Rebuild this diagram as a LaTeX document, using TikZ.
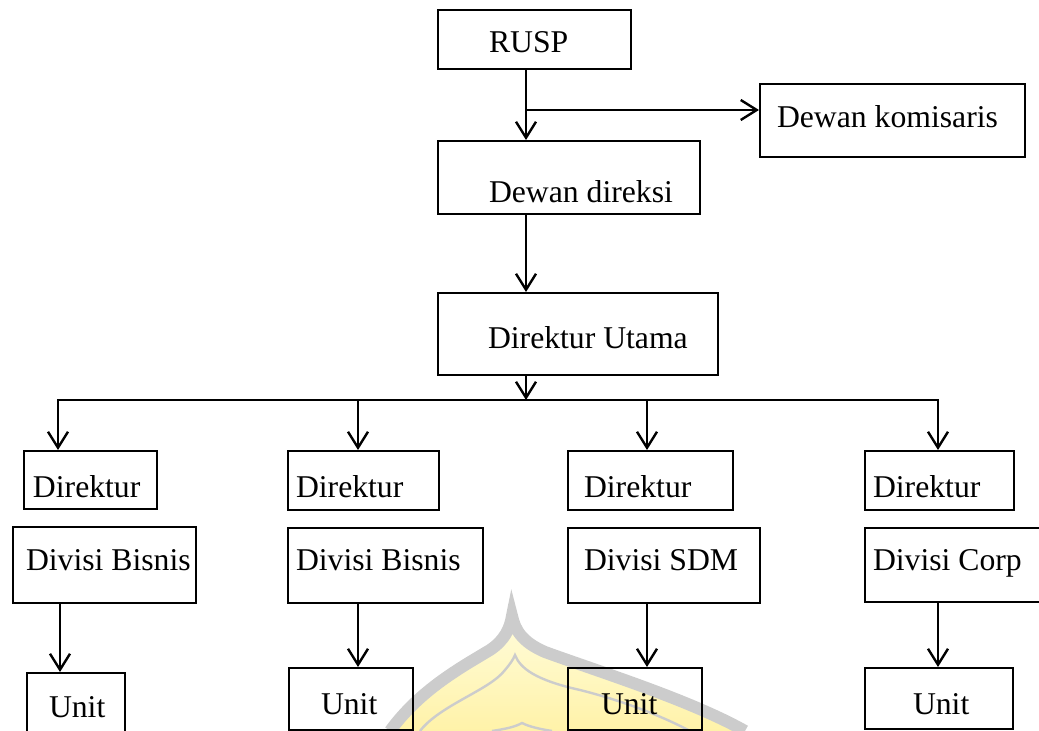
\documentclass[tikz,border=0pt]{standalone}
\usepackage{fontspec}
\setmainfont{Liberation Serif}
\usepackage{xcolor}
\usepackage{tikz}
\usetikzlibrary{arrows.meta, calc, backgrounds}
\definecolor{wmgray}{rgb}{0.80, 0.80, 0.80}
\definecolor{wmpale}{rgb}{1.00, 0.99, 0.86}
\definecolor{wmyellow}{rgb}{1.00, 0.95, 0.66}
\newcommand{\orgfont}{\fontsize{15.85pt}{19pt}\selectfont}
\tikzstyle{orgbox} = [draw, line width=1pt, inner sep=0pt, anchor=north west, align=flush left, font=\orgfont]
\tikzstyle{arrow} = [line width=1.2pt, -{Straight Barb[length=8pt, width=10pt]}]
\tikzstyle{link} = [line width=1.2pt, line cap=rect]

\begin{document}
\begin{tikzpicture}[x=0.5pt, y=-0.5pt]
\useasboundingbox (0,0) rectangle (1039,731);

% faint logo behind the chart
\shade[top color=wmpale, bottom color=wmyellow] (390,731) .. controls (420,690) and (460,668) .. (490,650)
  .. controls (505,640) and (510,628) .. (512,616)
  .. controls (515,630) and (522,642) .. (545,652)
  .. controls (600,672) and (690,700) .. (745,731) -- cycle;
\draw[wmgray, line width=6pt] (390,731) .. controls (420,690) and (460,668) .. (490,650)
  .. controls (505,640) and (510,628) .. (512,616)
  .. controls (515,630) and (522,642) .. (545,652)
  .. controls (600,672) and (690,700) .. (745,731);
\draw[wmgray, line width=1.2pt] (420,731) .. controls (440,705) and (490,690) .. (505,670)
  .. controls (510,664) and (513,660) .. (515,655)
  .. controls (520,668) and (535,680) .. (580,690)
  .. controls (620,700) and (660,715) .. (690,731);
\draw[wmgray, line width=1.2pt] (492,731) .. controls (505,729) and (515,727) .. (522,723)
  .. controls (530,727) and (540,729) .. (552,731);

% top of the chart
\node[orgbox, text width=96.5pt, text height=21.5pt, text depth=8pt] (rusp) at (437,9) {\hspace*{25.5pt}RUSP};
\node[orgbox, text width=132.5pt, text height=22pt, text depth=14.5pt] (komisaris) at (759,83) {\hspace*{8.5pt}Dewan komisaris};
\node[orgbox, text width=131pt, text height=31pt, text depth=5.5pt] (direksi) at (437,140) {\hspace*{25.5pt}Dewan direksi};
\node[orgbox, text width=140pt, text height=28pt, text depth=13pt] (utama) at (437,292) {\hspace*{25pt}Direktur Utama};

% directors
\node[orgbox, text width=66.5pt, text height=23.5pt, text depth=5.5pt] (dir1) at (23,450) {\hspace*{4.5pt}Direktur};
\node[orgbox, text width=75.5pt, text height=23.5pt, text depth=6pt] (dir2) at (287,450) {\hspace*{4pt}Direktur};
\node[orgbox, text width=82.5pt, text height=23.5pt, text depth=6pt] (dir3) at (567,450) {\hspace*{8pt}Direktur};
\node[orgbox, text width=74.5pt, text height=23.5pt, text depth=6pt] (dir4) at (864,450) {\hspace*{4pt}Direktur};

% divisions
\node[orgbox, text width=91.5pt, text height=22pt, text depth=16pt] (div1) at (12,526) {\hspace*{6.5pt}Divisi Bisnis};
\node[orgbox, text width=97.5pt, text height=21.5pt, text depth=16pt] (div2) at (287,527) {\hspace*{4pt}Divisi Bisnis};
\node[orgbox, text width=96pt, text height=21.5pt, text depth=16pt] (div3) at (567,527) {\hspace*{8pt}Divisi SDM};
\node[orgbox, text width=95pt, text height=21.5pt, text depth=15.5pt] (div4) at (864,527) {\hspace*{4pt}Divisi Corp};

% units
\node[orgbox, text width=49pt, text height=22.5pt, text depth=14pt] (unit1) at (26,672) {\hspace*{11pt}Unit};
\node[orgbox, text width=62pt, text height=23pt, text depth=8pt] (unit2) at (288,667) {\hspace*{16pt}Unit};
\node[orgbox, text width=67pt, text height=23pt, text depth=8pt] (unit3) at (567,667) {\hspace*{16.5pt}Unit};
\node[orgbox, text width=74pt, text height=23pt, text depth=7.5pt] (unit4) at (864,667) {\hspace*{24pt}Unit};

% connectors
\coordinate (trunk) at (526,110);
\coordinate (col1) at (58,400);
\coordinate (col2) at (358,400);
\coordinate (col3) at (647,400);
\coordinate (col4) at (938,400);
\coordinate (leg1) at (60,600);

\draw[arrow] (rusp.south -| trunk) -- (direksi.north -| trunk);
\draw[arrow] (trunk) -- (trunk -| komisaris.west);
\draw[arrow] (direksi.south -| trunk) -- (utama.north -| trunk);
\draw[arrow] (utama.south -| trunk) -- (trunk |- col1);
\draw[link] (col1) -- (col4);

\draw[arrow] (col1) -- (dir1.north -| col1);
\draw[arrow] (col2) -- (dir2.north -| col2);
\draw[arrow] (col3) -- (dir3.north -| col3);
\draw[arrow] (col4) -- (dir4.north -| col4);

\draw[arrow] (div1.south -| leg1) -- (unit1.north -| leg1);
\draw[arrow] (div2.south -| col2) -- (unit2.north -| col2);
\draw[arrow] (div3.south -| col3) -- (unit3.north -| col3);
\draw[arrow] (div4.south -| col4) -- (unit4.north -| col4);

\end{tikzpicture}
\end{document}
